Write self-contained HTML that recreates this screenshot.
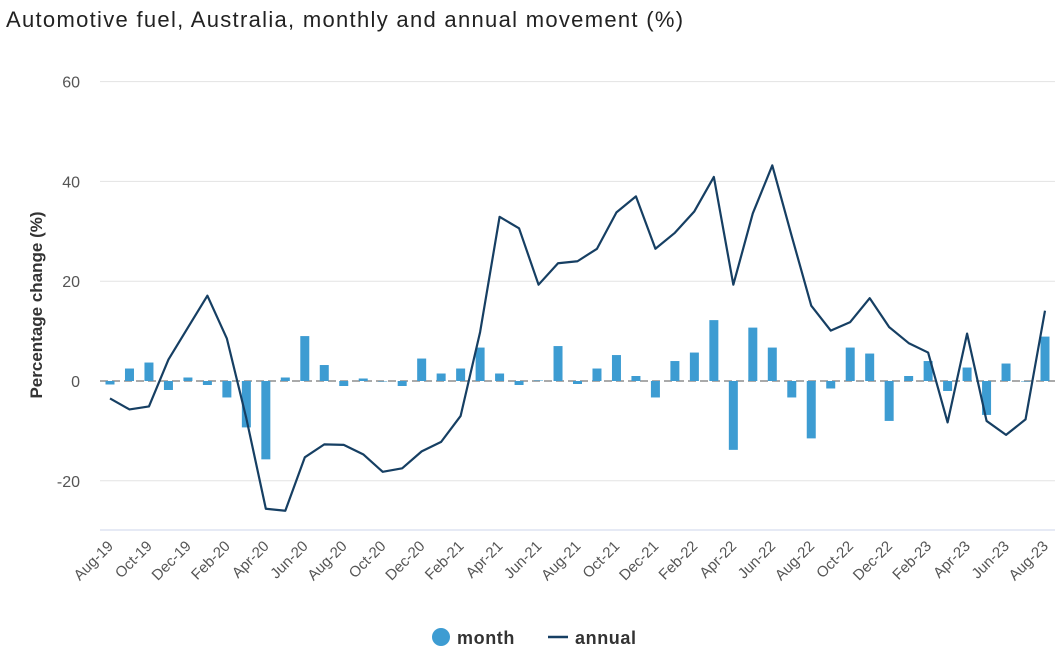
<!DOCTYPE html>
<html><head><meta charset="utf-8"><style>
body{margin:0;background:#fff;font-family:"Liberation Sans",Arial,sans-serif}
</style></head><body>
<svg width="1060" height="657" xmlns="http://www.w3.org/2000/svg" id="chart">
<text x="6" y="27" font-size="22" letter-spacing="1.3" fill="#222">Automotive fuel, Australia, monthly and annual movement (%)</text>
<g id="grid"></g>
<g id="bars"></g>
<g id="line"></g>
<g id="xaxis"></g>
<text transform="translate(42,305) rotate(-90)" text-anchor="middle" font-size="17" font-weight="bold" fill="#333">Percentage change (%)</text>
<g>
<g><circle cx="441" cy="637" r="9" fill="#3d9cd2"/><text x="457" y="644" font-size="18" letter-spacing="0.6" font-weight="bold" fill="#333">month</text></g>
<g><line x1="548" y1="637" x2="568" y2="637" stroke="#163f63" stroke-width="2.5"/><text x="575" y="644" font-size="18" letter-spacing="0.6" font-weight="bold" fill="#333">annual</text></g>
</g>
</svg>
<script>
const categories=["Aug-19","Sep-19","Oct-19","Nov-19","Dec-19","Jan-20","Feb-20","Mar-20","Apr-20","May-20","Jun-20","Jul-20","Aug-20","Sep-20","Oct-20","Nov-20","Dec-20","Jan-21","Feb-21","Mar-21","Apr-21","May-21","Jun-21","Jul-21","Aug-21","Sep-21","Oct-21","Nov-21","Dec-21","Jan-22","Feb-22","Mar-22","Apr-22","May-22","Jun-22","Jul-22","Aug-22","Sep-22","Oct-22","Nov-22","Dec-22","Jan-23","Feb-23","Mar-23","Apr-23","May-23","Jun-23","Jul-23","Aug-23"];
const monthValues=[-0.7,2.5,3.7,-1.8,0.7,-0.8,-3.3,-9.3,-15.7,0.7,9.0,3.2,-1.0,0.5,0,-1.0,4.5,1.5,2.5,6.7,1.5,-0.8,0.1,7.0,-0.6,2.5,5.2,1.0,-3.3,4.0,5.7,12.2,-13.8,10.7,6.7,-3.3,-11.5,-1.5,6.7,5.5,-8.0,1.0,4.0,-2.0,2.7,-6.8,3.5,0,8.9];
const annualValues=[-3.5,-5.7,-5.1,4.3,10.7,17.1,8.5,-7.5,-25.6,-26.0,-15.3,-12.7,-12.8,-14.7,-18.2,-17.5,-14.1,-12.2,-7.0,9.8,32.9,30.6,19.3,23.6,24.0,26.5,33.8,37.0,26.5,29.7,34.0,40.9,19.3,33.6,43.2,29.0,15.1,10.1,11.8,16.6,10.8,7.6,5.7,-8.3,9.5,-8.0,-10.8,-7.7,14.1];
const yTicks=[60,40,20,0,-20];
const NS="http://www.w3.org/2000/svg";
const x0=110,x1=1045,y0=381,ppu=4.99;
const X=i=>x0+(x1-x0)*i/(categories.length-1);
const Y=v=>y0-v*ppu;
function mk(t,a,p){const e=document.createElementNS(NS,t);for(const k in a)e.setAttribute(k,a[k]);p.appendChild(e);return e;}
const grid=document.getElementById('grid');
yTicks.forEach(t=>{
  if(t!==0){const l=mk('line',{x1:100,x2:1055,y1:Y(t),y2:Y(t),stroke:'#e3e3e3','stroke-width':1},grid);
  
  }
  const tx=mk('text',{x:80,y:Y(t)+6,'text-anchor':'end','font-size':16,fill:'#555'},grid);
  tx.textContent=t;
  
  
});
const ax=mk('line',{x1:100,x2:1055,y1:530,y2:530,stroke:'#ccd6eb','stroke-width':1},grid);


const zl=mk('line',{x1:100,x2:1055,y1:y0,y2:y0,stroke:'#aaa','stroke-width':2,'stroke-dasharray':'8,4'},grid);


const bars=document.getElementById('bars');
monthValues.forEach((v,i)=>{
  const y=Math.min(Y(v),y0),h=Math.abs(Y(v)-y0);
  const r=mk('rect',{x:X(i)-4.5,y:y,width:9,height:Math.max(h,0.5),fill:'#3d9cd2'},bars);
  
  
});
const lg=document.getElementById('line');
const p=mk('polyline',{points:annualValues.map((v,i)=>X(i)+','+Y(v)).join(' '),fill:'none',stroke:'#163f63','stroke-width':2.2,'stroke-linejoin':'round'},lg);


const xa=document.getElementById('xaxis');
categories.forEach((c,i)=>{
  if(i%2)return;
  const t=mk('text',{transform:`translate(${X(i)+4},${547}) rotate(-45)`,'text-anchor':'end','font-size':15,fill:'#555'},xa);
  t.textContent=c;
  
  
});
</script>
</body></html>
